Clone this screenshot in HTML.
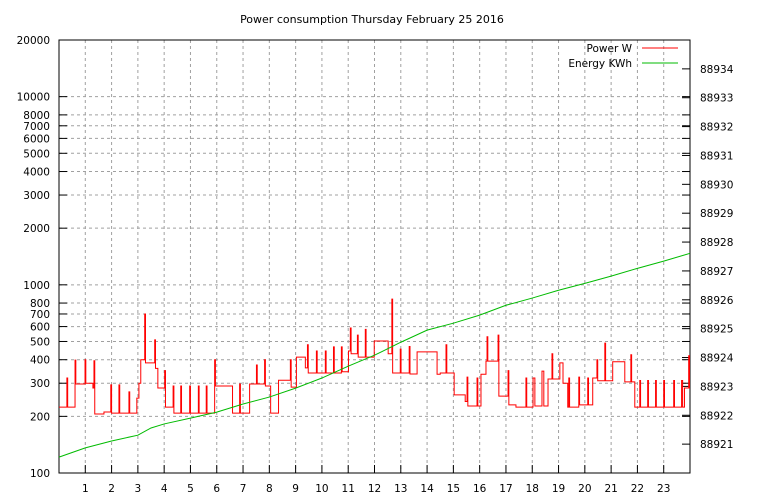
<!DOCTYPE html>
<html><head><meta charset="utf-8"><style>
html,body{margin:0;padding:0;background:#fff;}
svg{display:block;font-family:"DejaVu Sans","Liberation Sans",sans-serif;}
</style></head><body>
<svg id="chart" width="768" height="500" xmlns="http://www.w3.org/2000/svg">
<text x="372" y="23" font-size="11" text-anchor="middle">Power consumption Thursday February 25 2016</text>
<g id="grid"></g><g id="axes"></g><g id="series"></g>
<g font-size="10.5">
<text x="632" y="52" text-anchor="end">Power W</text>
<line x1="642" y1="48" x2="678" y2="48" stroke="#f00" stroke-width="1"/>
<text x="632" y="67" text-anchor="end">Energy KWh</text>
<line x1="642" y1="63" x2="678" y2="63" stroke="#0b0" stroke-width="1"/>
</g>
</svg>
<script>
const powerTimes=[0,0.3,0.33,0.61,0.64,0.99,1.02,1.29,1.33,1.36,1.71,1.97,2.0,2.28,2.31,2.66,2.69,2.96,3.04,3.11,3.26,3.29,3.64,3.67,3.76,4.02,4.05,4.34,4.37,4.63,4.66,4.97,5.0,5.30,5.33,5.60,5.63,5.92,5.95,6.60,6.87,6.90,7.25,7.51,7.54,7.82,7.85,8.05,8.35,8.80,8.83,9.03,9.37,9.45,9.48,9.79,9.82,10.13,10.16,10.44,10.47,10.74,10.77,11.01,11.08,11.11,11.35,11.38,11.65,11.68,11.99,12.52,12.66,12.69,12.98,13.01,13.32,13.35,13.62,14.38,14.50,14.72,14.75,15.03,15.45,15.52,15.55,15.90,15.93,16.05,16.24,16.28,16.31,16.70,16.73,16.89,17.08,17.11,17.38,17.76,17.79,18.03,18.10,18.37,18.44,18.60,18.75,18.78,19.05,19.17,19.35,19.39,19.42,19.77,19.80,20.11,20.14,20.30,20.46,20.49,20.76,20.79,21.06,21.52,21.75,21.78,21.90,22.09,22.12,22.39,22.42,22.69,22.72,23.00,23.03,23.38,23.41,23.68,23.72,23.79,23.95,23.98];
const powerValues=[224,320,224,398,297,400,300,283,395,206,211,294,208,294,208,270,208,250,300,400,700,385,510,360,283,350,224,290,208,290,208,290,208,290,208,290,208,400,290,208,297,208,297,375,297,400,290,208,311,400,286,413,362,480,340,445,340,445,340,468,340,468,345,445,590,430,540,413,580,413,503,430,840,340,455,340,470,336,440,335,340,480,340,260,240,323,227,320,227,335,393,530,393,540,256,256,350,230,224,320,224,320,227,348,227,316,430,316,385,300,224,320,224,323,230,320,230,320,400,309,490,309,390,305,425,305,224,310,224,310,224,310,224,310,224,310,224,310,224,283,420,283];
const energyHours=[0,1,2,3,3.5,4,5,6,7,8,9,10,11,12,13,14,15,16,17,18,19,20,21,22,23,24];
const energyValues=[88920.55,88920.87,88921.11,88921.31,88921.56,88921.70,88921.90,88922.11,88922.39,88922.63,88922.94,88923.29,88923.70,88924.08,88924.53,88924.95,88925.19,88925.47,88925.81,88926.06,88926.33,88926.57,88926.82,88927.09,88927.34,88927.61];
const leftTicks=[100,200,300,400,500,600,700,800,1000,2000,3000,4000,5000,6000,7000,8000,10000,20000];
const rightTicks=[88921,88922,88923,88924,88925,88926,88927,88928,88929,88930,88931,88932,88933,88934];
const xTicks=[1,2,3,4,5,6,7,8,9,10,11,12,13,14,15,16,17,18,19,20,21,22,23];
const L=59,R=690,T=40,B=473;
const NS="http://www.w3.org/2000/svg";
const xS=h=>L+h*(R-L)/24;
const yL=v=>B-(Math.log10(v)-2)/Math.log10(200)*(B-T);
const yR=e=>B-(e-88920)/15*(B-T);
function mk(tag,attrs,parent){const e=document.createElementNS(NS,tag);for(const k in attrs)e.setAttribute(k,attrs[k]);document.getElementById(parent).appendChild(e);return e;}
leftTicks.forEach(v=>{const y=yL(v);
 if(v>100&&v<20000){const g=mk('line',{x1:L,x2:R,y1:y,y2:y,stroke:'#a0a0a0','stroke-dasharray':'3,3','stroke-width':1},'grid');
 
 }
 const t=mk('line',{x1:L,x2:L+8,y1:y,y2:y,stroke:'#000'},'axes');
 
 
 const t2=mk('line',{x1:R-8,x2:R,y1:y,y2:y,stroke:'#000'},'axes');
 
 
 const lb=mk('text',{x:L-9,y:y+4,'font-size':10.5,'text-anchor':'end'},'axes');lb.textContent=v;
 
 });
rightTicks.forEach(v=>{const y=yR(v);
 const t=mk('line',{x1:R-8,x2:R,y1:y,y2:y,stroke:'#000'},'axes');
 
 
 const lb=mk('text',{x:R+10,y:y+4,'font-size':10.5},'axes');lb.textContent=v;
 
 });
xTicks.forEach(h=>{const x=xS(h);
 const g=mk('line',{x1:x,x2:x,y1:T,y2:B,stroke:'#a0a0a0','stroke-dasharray':'3,3'},'grid');
 
 
 const t=mk('line',{x1:x,x2:x,y1:B-8,y2:B,stroke:'#000'},'axes');
 
 
 const lb=mk('text',{x:x,y:B+19,'font-size':10.5,'text-anchor':'middle'},'axes');lb.textContent=h;
 
 });
const fr=mk('rect',{x:L,y:T,width:R-L,height:B-T,fill:'none',stroke:'#000'},'axes');


let d='';
powerTimes.forEach((t,i)=>{const x=xS(t),y=yL(powerValues[i]);
 if(i===0)d+='M'+x+','+y;else d+='H'+x+'V'+y;});
d+='H'+xS(24);
const p=mk('path',{d:d,fill:'none',stroke:'#f00','stroke-width':1},'series');


const e=mk('polyline',{points:energyHours.map((h,i)=>xS(h)+','+yR(energyValues[i])).join(' '),fill:'none',stroke:'#0b0','stroke-width':1},'series');


</script>
</body></html>
